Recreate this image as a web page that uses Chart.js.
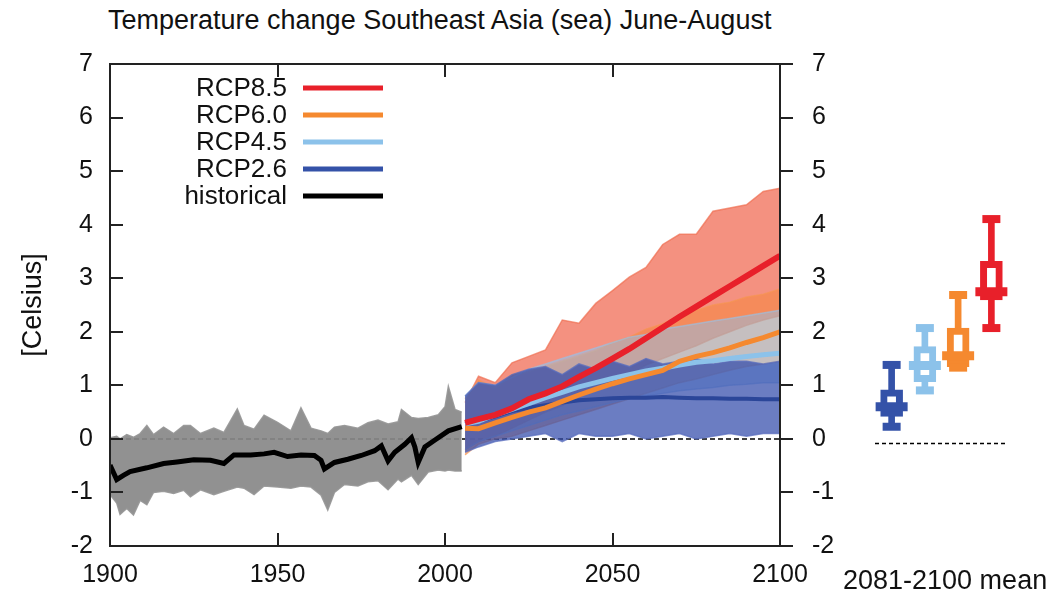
<!DOCTYPE html>
<html>
<head>
<meta charset="utf-8">
<script src="https://cdn.jsdelivr.net/npm/chart.js@4.4.1/dist/chart.umd.min.js"></script>
<style>
  html, body { margin: 0; padding: 0; background: #fff; overflow: hidden; }
  body { width: 1052px; height: 593px; position: relative; font-family: "Liberation Sans", Arial, sans-serif; color: #111; }
  #mainChart { position: absolute; left: 0; top: 0; }
  #boxChart { position: absolute; left: 850px; top: 0; }
  .txt { position: absolute; line-height: 1; white-space: nowrap; }
  #title { left: 108px; top: 7px; font-size: 27px; }
  #boxLabel { left: 843px; top: 567px; font-size: 27px; }
</style>
</head>
<body>
<div id="title" class="txt">Temperature change Southeast Asia (sea) June-August</div>
<canvas id="mainChart" width="850" height="593"></canvas>
<canvas id="boxChart" width="202" height="593"></canvas>
<div id="boxLabel" class="txt">2081-2100 mean</div>
<script>
// 历史模拟 (1900-2005)
const histMeanYears = [1900, 1902, 1904, 1906, 1911, 1916, 1920, 1925, 1930, 1934, 1937, 1942, 1946, 1949, 1953, 1957, 1961, 1963, 1964, 1967, 1971, 1975, 1979, 1981, 1983, 1985, 1988, 1990, 1991, 1992, 1994, 1997, 2001, 2005];
const histMean = [-0.49, -0.76, -0.68, -0.61, -0.54, -0.46, -0.43, -0.39, -0.40, -0.46, -0.30, -0.30, -0.28, -0.25, -0.33, -0.30, -0.31, -0.40, -0.56, -0.44, -0.38, -0.31, -0.22, -0.13, -0.41, -0.25, -0.10, 0.02, -0.15, -0.44, -0.15, -0.02, 0.15, 0.23];

const histBandYears = [1900, 1902, 1903, 1905, 1907, 1909, 1911, 1913, 1916, 1919, 1922, 1924, 1927, 1931, 1934, 1938, 1940, 1943, 1946, 1950, 1954, 1957, 1960, 1963, 1965, 1967, 1970, 1974, 1977, 1980, 1983, 1986, 1987, 1990, 1992, 1995, 1998, 2000, 2001, 2003, 2005];
const histHigh = [0.02, 0.05, 0.00, 0.08, 0.03, 0.10, 0.25, 0.08, 0.22, 0.10, 0.25, 0.25, 0.10, 0.20, 0.12, 0.56, 0.25, 0.18, 0.44, 0.31, 0.15, 0.58, 0.20, 0.15, 0.10, 0.22, 0.25, 0.20, 0.30, 0.35, 0.28, 0.32, 0.55, 0.40, 0.38, 0.40, 0.45, 0.60, 0.98, 0.55, 0.50];
const histLow = [-1.04, -1.20, -1.41, -1.30, -1.42, -1.15, -1.23, -1.00, -0.98, -1.02, -0.96, -1.08, -0.95, -1.04, -0.98, -0.90, -0.92, -1.04, -0.88, -0.90, -0.92, -0.88, -0.90, -1.05, -1.33, -1.00, -0.85, -0.88, -0.80, -0.78, -0.95, -0.75, -0.80, -0.68, -0.85, -0.62, -0.58, -0.60, -0.58, -0.60, -0.60];

// 情景预估 (2006-2100)
const futureYears = [2006, 2010, 2015, 2020, 2025, 2030, 2035, 2040, 2045, 2050, 2055, 2060, 2065, 2070, 2075, 2080, 2085, 2090, 2095, 2100];
const rcp85Mean = [0.30, 0.37, 0.45, 0.57, 0.74, 0.85, 0.98, 1.16, 1.32, 1.50, 1.68, 1.88, 2.08, 2.28, 2.47, 2.66, 2.85, 3.04, 3.23, 3.42];
const rcp60Mean = [0.20, 0.19, 0.30, 0.40, 0.50, 0.58, 0.70, 0.82, 0.93, 1.03, 1.12, 1.20, 1.28, 1.45, 1.54, 1.61, 1.70, 1.80, 1.89, 2.00];
const rcp45Mean = [0.28, 0.33, 0.45, 0.55, 0.66, 0.77, 0.87, 0.97, 1.05, 1.13, 1.20, 1.27, 1.32, 1.38, 1.43, 1.46, 1.50, 1.54, 1.57, 1.60];
const rcp26Mean = [0.28, 0.33, 0.42, 0.52, 0.58, 0.63, 0.68, 0.72, 0.74, 0.76, 0.77, 0.77, 0.78, 0.77, 0.76, 0.76, 0.75, 0.75, 0.74, 0.74];

const rcp85High = [0.68, 1.17, 1.05, 1.42, 1.54, 1.66, 2.22, 2.16, 2.53, 2.77, 3.02, 3.20, 3.63, 3.82, 3.82, 4.25, 4.31, 4.37, 4.62, 4.68];
const rcp85Low = [-0.20, -0.05, 0.05, 0.20, 0.35, 0.50, 0.62, 0.78, 0.92, 1.08, 1.22, 1.38, 1.50, 1.62, 1.74, 1.88, 2.00, 2.12, 2.22, 2.30];
const rcp60High = [0.75, 1.10, 0.95, 1.20, 1.25, 1.35, 1.45, 1.55, 1.65, 1.80, 1.90, 2.05, 2.15, 2.30, 2.40, 2.50, 2.55, 2.65, 2.70, 2.80];
const rcp60Low = [-0.30, -0.10, 0.00, 0.05, 0.15, 0.25, 0.35, 0.45, 0.55, 0.65, 0.75, 0.85, 0.95, 1.05, 1.12, 1.20, 1.28, 1.35, 1.40, 1.45];
const rcp45High = [0.80, 1.05, 1.00, 1.15, 1.30, 1.40, 1.50, 1.60, 1.70, 1.80, 1.90, 1.95, 2.05, 2.10, 2.15, 2.20, 2.25, 2.30, 2.35, 2.40];
const rcp45Low = [-0.20, -0.05, 0.05, 0.15, 0.25, 0.35, 0.45, 0.52, 0.60, 0.68, 0.75, 0.80, 0.85, 0.90, 0.93, 0.96, 1.00, 1.02, 1.05, 1.05];
const rcp26High = [0.80, 1.05, 1.00, 1.20, 1.30, 1.35, 1.20, 1.40, 1.30, 1.45, 1.35, 1.50, 1.40, 1.45, 1.50, 1.40, 1.45, 1.45, 1.40, 1.45];
const rcp26Low = [-0.25, -0.15, -0.05, 0.00, 0.05, 0.10, -0.05, 0.10, 0.05, 0.05, 0.10, 0.00, 0.05, 0.10, 0.00, 0.05, 0.10, 0.05, 0.10, 0.10];

// 2081-2100 平均 箱线图
const boxLabels = ['RCP2.6', 'RCP4.5', 'RCP6.0', 'RCP8.5'];
const boxMin = [0.31, 0.98, 1.40, 2.13];
const boxQ1 = [0.50, 1.14, 1.42, 2.65];
const boxMedian = [0.68, 1.44, 1.62, 2.80];
const boxQ3 = [0.99, 1.79, 2.13, 3.36];
const boxMax = [1.45, 2.13, 2.74, 4.14];

const legendLabels = ['RCP8.5', 'RCP6.0', 'RCP4.5', 'RCP2.6', 'historical'];
const yTicksMin = -2, yTicksMax = 7;
const xMin = 1900, xMax = 2100;

const C_RED = '#e8202a', C_ORANGE = '#f5892f', C_LBLUE = '#8cc2ea', C_BLUE = '#3452a8', C_BLACK = '#000000';
const legendColors = [C_RED, C_ORANGE, C_LBLUE, C_BLUE, C_BLACK];
const boxColors = [C_BLUE, C_LBLUE, C_ORANGE, C_RED];

Chart.defaults.font.family = '"Liberation Sans", Arial, Helvetica, sans-serif';
Chart.defaults.color = '#111';
Chart.defaults.animation = false;

const pts = (xs, ys) => xs.map((x, i) => ({ x: x, y: ys[i] }));

const datasets = [];
function addLine(xs, ys, color, width, order, extra) {
    datasets.push(Object.assign({
        data: pts(xs, ys), borderColor: color, borderWidth: width, pointRadius: 0,
        tension: 0, fill: false, order: order
    }, extra || {}));
}
function addBand(xs, hi, lo, fillColor, edgeColor, order) {
    addLine(xs, lo, edgeColor, 1.5, order);
    addLine(xs, hi, edgeColor, 1.5, order, { fill: '-1', backgroundColor: fillColor });
}

// 零线
addLine([xMin, xMax], [0, 0], '#000', 1.5, 20, { borderDash: [5, 3] });
// 模式离散范围
addBand(histBandYears, histHigh, histLow, 'rgba(136,136,136,0.92)', 'rgba(150,150,150,0.9)', 15);
addBand(futureYears, rcp85High, rcp85Low, 'rgba(238,78,50,0.62)', 'rgba(240,110,80,0.7)', 14);
addBand(futureYears, rcp60High, rcp60Low, 'rgba(246,135,60,0.55)', 'rgba(247,150,80,0.6)', 13);
addBand(futureYears, rcp45High, rcp45Low, 'rgba(140,195,240,0.48)', 'rgba(150,195,235,0.6)', 12);
addBand(futureYears, rcp26High, rcp26Low, 'rgba(50,75,170,0.72)', 'rgba(90,110,190,0.75)', 11);
// 多模式平均
addLine(histMeanYears, histMean, C_BLACK, 5, 6);
addLine(futureYears, rcp26Mean, '#2b4699', 4, 5);
addLine(futureYears, rcp45Mean, C_LBLUE, 5, 4);
addLine(futureYears, rcp60Mean, C_ORANGE, 5, 3);
addLine(futureYears, rcp85Mean, C_RED, 6, 2);

const frameAndLegend = {
    id: 'frameAndLegend',
    afterDraw(chart) {
        const { ctx, chartArea: a, scales } = chart;
        const tl = 13;
        ctx.save();
        ctx.strokeStyle = '#222';
        ctx.lineWidth = 2;
        ctx.strokeRect(a.left, a.top, a.right - a.left, a.bottom - a.top);
        ctx.beginPath();
        scales.y.ticks.forEach(t => {
            const y = Math.round(scales.y.getPixelForValue(t.value));
            ctx.moveTo(a.left, y); ctx.lineTo(a.left + tl, y);
            ctx.moveTo(a.right, y); ctx.lineTo(a.right + tl, y);
        });
        scales.x.ticks.forEach(t => {
            const x = Math.round(scales.x.getPixelForValue(t.value));
            ctx.moveTo(x, a.bottom); ctx.lineTo(x, a.bottom - tl);
            ctx.moveTo(x, a.top); ctx.lineTo(x, a.top + tl);
        });
        ctx.stroke();

        // 图例：文字右对齐，线段在右
        ctx.font = '26px "Liberation Sans", Arial, sans-serif';
        ctx.textAlign = 'right';
        ctx.textBaseline = 'middle';
        legendLabels.forEach((lab, i) => {
            const y = a.top + 24 + i * 27;
            ctx.fillStyle = '#111';
            ctx.fillText(lab, a.left + 177, y + 1);
            ctx.strokeStyle = legendColors[i];
            ctx.lineWidth = 5;
            ctx.beginPath();
            ctx.moveTo(a.left + 193, y); ctx.lineTo(a.left + 273, y);
            ctx.stroke();
        });
        ctx.restore();
    }
};

new Chart(document.getElementById('mainChart'), {
    type: 'line',
    data: { datasets: datasets },
    options: {
        responsive: false,
        layout: { padding: { top: 64, left: 0, right: 0, bottom: 0 } },
        plugins: { legend: { display: false }, tooltip: { enabled: false } },
        scales: {
            x: {
                type: 'linear', min: xMin, max: xMax,
                grid: { display: false, drawTicks: false }, border: { display: false },
                ticks: { stepSize: 50, padding: 14, font: { size: 25 }, color: '#111',
                    callback: v => String(v) },
                afterFit: s => { s.height = 41; }
            },
            y: {
                position: 'left', min: yTicksMin, max: yTicksMax,
                grid: { display: false, drawTicks: false }, border: { display: false },
                ticks: { stepSize: 1, padding: 17, font: { size: 25 }, color: '#111' },
                title: { display: true, text: '[Celsius]', font: { size: 27 }, color: '#111', padding: { top: 17, bottom: 0 } },
                afterFit: s => { s.width = 110; }
            },
            y2: {
                position: 'right', min: yTicksMin, max: yTicksMax,
                grid: { display: false, drawTicks: false }, border: { display: false },
                ticks: { stepSize: 1, padding: 32, font: { size: 25 }, color: '#111' },
                afterFit: s => { s.width = 70; }
            }
        }
    },
    plugins: [frameAndLegend]
});

const zeroLine = {
    id: 'zeroLine',
    beforeDatasetsDraw(chart) {
        const { ctx, chartArea: a, scales } = chart;
        const y = scales.y.getPixelForValue(0);
        ctx.save();
        ctx.strokeStyle = '#000';
        ctx.lineWidth = 1.5;
        ctx.setLineDash([4, 3]);
        ctx.beginPath();
        ctx.moveTo(a.left, y); ctx.lineTo(a.right, y);
        ctx.stroke();
        ctx.restore();
    }
};

const markStyle = (radius, width) => ({
    type: 'line', showLine: false, pointStyle: 'line', pointRadius: radius,
    pointBorderWidth: width, pointBorderColor: boxColors, pointBackgroundColor: boxColors
});

new Chart(document.getElementById('boxChart'), {
    type: 'bar',
    data: {
        labels: boxLabels,
        datasets: [
            { type: 'bar', grouped: false, data: boxMin.map((v, i) => [v, boxMax[i]]), backgroundColor: boxColors, barThickness: 6, order: 5 },
            { type: 'bar', grouped: false, data: boxQ1.map((v, i) => [v, boxQ3[i]]), backgroundColor: '#ffffff', borderColor: boxColors, borderWidth: 7, borderSkipped: false, barThickness: 22, order: 4 },
            Object.assign({ data: boxMax, order: 3 }, markStyle(9, 8)),
            Object.assign({ data: boxMin, order: 2 }, markStyle(9, 8)),
            Object.assign({ data: boxMedian, order: 1 }, markStyle(16, 9))
        ]
    },
    options: {
        responsive: false,
        layout: { padding: { top: 64, bottom: 41, left: 14, right: 44 } },
        plugins: { legend: { display: false }, tooltip: { enabled: false } },
        scales: {
            x: { display: false, offset: true },
            y: { display: false, min: yTicksMin, max: yTicksMax }
        }
    },
    plugins: [zeroLine]
});
</script>
</body>
</html>
